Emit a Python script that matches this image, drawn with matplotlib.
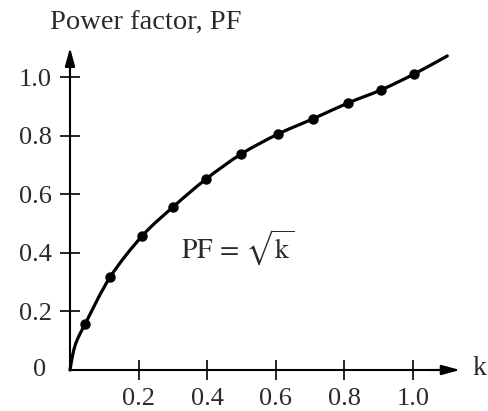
import matplotlib
matplotlib.use('Agg')
import matplotlib.pyplot as plt
from matplotlib.path import Path
from matplotlib.patches import PathPatch

# Data
k_points = [0.044, 0.117, 0.21, 0.30, 0.397, 0.499, 0.606, 0.708, 0.81, 0.907, 1.003]
pf_points = [0.157, 0.317, 0.457, 0.556, 0.652, 0.737, 0.805, 0.857, 0.911, 0.956, 1.01]

curve_k = [0.0, 0.009, 0.02, 0.044, 0.117, 0.21, 0.30, 0.397, 0.499, 0.606, 0.708, 0.81, 0.907, 1.003, 1.10]
curve_pf = [0.0, 0.058, 0.10, 0.157, 0.317, 0.457, 0.556, 0.652, 0.737, 0.805, 0.857, 0.911, 0.956, 1.01, 1.072]

x_ticks = [0.2, 0.4, 0.6, 0.8, 1.0]
x_tick_labels = ['0.2', '0.4', '0.6', '0.8', '1.0']
y_ticks = [0.2, 0.4, 0.6, 0.8, 1.0]
y_tick_labels = ['0.2', '0.4', '0.6', '0.8', '1.0']

plt.rcParams['font.family'] = ['Liberation Serif', 'DejaVu Serif']
plt.rcParams['mathtext.fontset'] = 'stix'

TXT = '#2a2a2a'
FS = 19

fig = plt.figure(figsize=(4.88, 4.11), dpi=100)
ax = fig.add_axes([0, 0, 1, 1])
ax.set_xlim(-70 / 343, 418 / 343)
ax.set_ylim(-41 / 293, 370 / 293)
ax.patch.set_visible(False)

for s in ['top', 'right']:
    ax.spines[s].set_visible(False)
ax.spines['left'].set_position(('data', 0))
ax.spines['bottom'].set_position(('data', 0))
ax.spines['left'].set_bounds(0, 1.07)
ax.spines['bottom'].set_bounds(0, 1.10)
for s in ['left', 'bottom']:
    ax.spines[s].set_linewidth(1.5)

ax.set_xticks(x_ticks)
ax.set_xticklabels(x_tick_labels)
ax.set_yticks(y_ticks)
ax.set_yticklabels(y_tick_labels)
ax.tick_params(direction='inout', length=14.4, width=1.2, colors='black',
               labelcolor=TXT, labelsize=FS, pad=6)

# arrow heads
arrow = dict(arrowstyle='-|>,head_length=1.1,head_width=0.3', lw=1.5,
             color='black', shrinkA=0, shrinkB=0)
ax.annotate('', xy=(1.137, 0), xytext=(1.05, 0), arrowprops=arrow)
ax.annotate('', xy=(0, 1.10), xytext=(0, 1.02), arrowprops=arrow)

# smooth curve through read points (Catmull-Rom -> cubic Bezier)
pts = list(zip(curve_k, curve_pf))
verts = [pts[0]]
codes = [Path.MOVETO]
n = len(pts)
for i in range(n - 1):
    p0 = pts[max(i - 1, 0)]
    p1 = pts[i]
    p2 = pts[i + 1]
    p3 = pts[min(i + 2, n - 1)]
    c1 = (p1[0] + (p2[0] - p0[0]) / 6, p1[1] + (p2[1] - p0[1]) / 6)
    c2 = (p2[0] - (p3[0] - p1[0]) / 6, p2[1] - (p3[1] - p1[1]) / 6)
    verts += [c1, c2, p2]
    codes += [Path.CURVE4] * 3
ax.add_patch(PathPatch(Path(verts, codes), fill=False, lw=2.3, ec='black',
                       capstyle='round'))

ax.plot(k_points, pf_points, 'o', color='black', markersize=6.5)

ax.text(-30 / 343, 0, '0', ha='center', va='center', fontsize=FS, color=TXT)
ax.text(409 / 343, 0.005, 'k', ha='center', va='center', fontsize=FS + 1, color=TXT)
ax.text(-20 / 343, 340 / 293, 'Power factor, PF', ha='left', va='baseline',
        fontsize=FS + 1.5, color=TXT)
ax.text(168 / 343, 0.415, r'$\mathrm{PF}\,=\,\sqrt{\mathrm{k}}$', ha='center',
        va='center', fontsize=FS + 1, color=TXT)

fig.savefig('out.png', dpi=100)
